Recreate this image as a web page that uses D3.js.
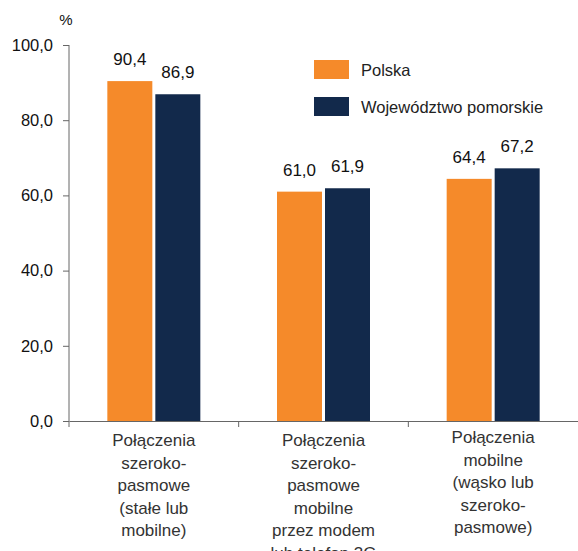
<!DOCTYPE html>
<html>
<head>
<meta charset="utf-8">
<script src="https://cdn.jsdelivr.net/npm/d3@7"></script>
<style>
  body { margin: 0; background: #fff; }
  svg { display: block; font-family: "Liberation Sans", Arial, sans-serif; }
</style>
</head>
<body>
<div id="chart"></div>
<script>
// data
var categories = [
  ["Połączenia", "szeroko-", "pasmowe", "(stałe lub", "mobilne)"],
  ["Połączenia", "szeroko-", "pasmowe", "mobilne", "przez modem", "lub telefon 3G"],
  ["Połączenia", "mobilne", "(wąsko lub", "szeroko-", "pasmowe)"]
];
var seriesNames = ["Polska", "Województwo pomorskie"];
var polska = [90.4, 61.0, 64.4];
var pomorskie = [86.9, 61.9, 67.2];
var yTicks = [0, 20, 40, 60, 80, 100];
var colors = ["#f58a2a", "#12294b"];

var W = 578, H = 551;
var margin = { top: 45, right: 0, bottom: 130, left: 69 };
var h = H - margin.top - margin.bottom;

var pl = d3.formatLocale({ decimal: ",", thousands: " ", grouping: [3], currency: ["", ""] });
var fmt = pl.format(".1f");

var svg = d3.select("#chart").append("svg")
  .attr("width", W)
  .attr("height", H);

var g = svg.append("g")
  .attr("transform", "translate(" + margin.left + "," + margin.top + ")");

var x0 = d3.scaleBand()
  .domain(d3.range(categories.length))
  .range([0, W - margin.left - margin.right]);

var x1 = d3.scaleBand()
  .domain(seriesNames)
  .range([0, 93])
  .paddingInner(0.0625);

var y = d3.scaleLinear()
  .domain([0, 100])
  .range([h, 0]);

var rows = categories.map(function(c, i) {
  return { i: i, values: [polska[i], pomorskie[i]] };
});

// bars
var groups = g.selectAll(".grp")
  .data(rows)
  .enter().append("g")
  .attr("class", "grp")
  .attr("transform", function(d) {
    return "translate(" + (x0(d.i) + (x0.bandwidth() - 93) / 2) + ",0)";
  });

groups.selectAll("rect")
  .data(function(d) { return d.values.map(function(v, k) { return { k: k, v: v }; }); })
  .enter().append("rect")
  .attr("x", function(d) { return x1(seriesNames[d.k]); })
  .attr("y", function(d) { return y(d.v); })
  .attr("width", x1.bandwidth())
  .attr("height", function(d) { return h - y(d.v); })
  .style("fill", function(d) { return colors[d.k]; });

groups.selectAll("text.val")
  .data(function(d) { return d.values.map(function(v, k) { return { k: k, v: v }; }); })
  .enter().append("text")
  .attr("class", "val")
  .attr("x", function(d) { return x1(seriesNames[d.k]) + x1.bandwidth() / 2; })
  .attr("y", function(d) { return y(d.v) - 16; })
  .attr("text-anchor", "middle")
  .style("font-size", "17px")
  .style("fill", "#111")
  .text(function(d) { return fmt(d.v); });

// y axis
var yAxis = g.append("g")
  .call(d3.axisLeft(y).tickValues(yTicks).tickSize(6).tickPadding(10).tickFormat(fmt));
yAxis.select(".domain").attr("stroke", "#666").attr("d", "M0," + y(100) + "V" + h);
yAxis.selectAll(".tick line").attr("stroke", "#666");
yAxis.selectAll(".tick text")
  .style("font-size", "16.5px")
  .style("font-family", "Liberation Sans, Arial, sans-serif")
  .style("fill", "#111");

// x axis
var xAxis = g.append("g")
  .attr("transform", "translate(0," + h + ")")
  .call(d3.axisBottom(x0).tickSize(0).tickFormat(""));
xAxis.select(".domain").attr("stroke", "#666");
xAxis.selectAll(".tick").remove();
xAxis.selectAll(".sep")
  .data(d3.range(categories.length))
  .enter().append("line")
  .attr("class", "sep")
  .attr("x1", function(d) { return x0(d); })
  .attr("x2", function(d) { return x0(d); })
  .attr("y1", 0)
  .attr("y2", 6)
  .attr("stroke", "#666");

// category labels
var labels = g.selectAll(".cat")
  .data(categories)
  .enter().append("text")
  .attr("class", "cat")
  .attr("text-anchor", "middle")
  .attr("transform", function(d, i) {
    return "translate(" + (x0(i) + x0.bandwidth() / 2) + "," + (h + 25 - (i === 2 ? 3 : 0)) + ")";
  })
  .style("font-size", "17px")
  .style("fill", "#333");
labels.selectAll("tspan")
  .data(function(d) { return d; })
  .enter().append("tspan")
  .attr("x", 0)
  .attr("dy", function(d, i) { return i === 0 ? 0 : 22.5; })
  .text(function(d) { return d; });

// unit
svg.append("text")
  .attr("x", 66)
  .attr("y", 25)
  .attr("text-anchor", "middle")
  .style("font-size", "15px")
  .style("fill", "#111")
  .text("%");

// legend
var legend = svg.append("g").attr("transform", "translate(314,60)");
var li = legend.selectAll("g")
  .data(seriesNames)
  .enter().append("g")
  .attr("transform", function(d, i) { return "translate(0," + (i * 37) + ")"; });
li.append("rect")
  .attr("width", 35)
  .attr("height", 19)
  .style("fill", function(d, i) { return colors[i]; });
li.append("text")
  .attr("x", 47)
  .attr("y", 16)
  .style("font-size", "16.5px")
  .style("fill", "#222")
  .text(function(d) { return d; });
</script>
</body>
</html>
